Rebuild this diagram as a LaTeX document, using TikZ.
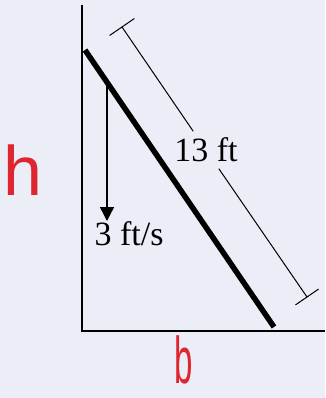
\documentclass[tikz,border=0pt]{standalone}
\usepackage{fontspec}
\setmainfont{Liberation Serif}
\newfontfamily\penfont{Liberation Sans}
\usetikzlibrary{arrows.meta,calc}
\definecolor{paper}{RGB}{236,238,247}
\definecolor{pen}{RGB}{222,38,48}

\begin{document}
\begin{tikzpicture}[x=1pt,y=-1pt,line width=1.2pt,>={Triangle[length=14pt,width=14pt]},
  lbl/.style={font=\fontsize{34}{34}\selectfont,inner sep=0pt},
  hand/.style={text=pen,font=\penfont\fontsize{70}{70}\selectfont,inner sep=0pt,anchor=base}]
  % hoja
  \fill[paper] (0,0) rectangle (325,398); \useasboundingbox (0,0) rectangle (325,398);
  % pared y suelo
  \coordinate (walltop) at (82,5); \coordinate (corner) at (82,331); \coordinate (floorend) at (325,331);
  \draw[line width=1.3pt] (walltop)--(corner)--(floorend);
  % escalera
  \coordinate (ladtop) at (85,50); \coordinate (ladbot) at (274,327);
  \draw[line width=5.5pt] (ladtop)--(ladbot);
  % velocidad de caida
  \coordinate (drop) at (107,84); \coordinate (tip) at (107,221);
  \draw[->,line width=1.4pt] (drop)--(tip);
  \node[lbl,anchor=base west] (vel) at (94,245){3 ft/s};
  % cota de la longitud
  \coordinate (dimtop) at (122,27); \coordinate (dimbot) at (307,297);
  \node[lbl,inner sep=6pt] (len) at (206,150){13 ft};
  \draw[line width=1pt] (dimtop)--(len) (len)--(dimbot);
  \draw[line width=1pt] ($(dimtop)!15pt!90:(dimbot)$)--($(dimtop)!15pt!-90:(dimbot)$);
  \draw[line width=1pt] ($(dimbot)!14pt!90:(dimtop)$)--($(dimbot)!14pt!-90:(dimtop)$);
  % anotaciones a mano
  \node[hand] (alto) at (23,195){h};
  \node[hand,font=\penfont\fontsize{66}{66}\selectfont] (ancho) at (184,383){\scalebox{0.5}[1]{b}};
\end{tikzpicture}
\end{document}
